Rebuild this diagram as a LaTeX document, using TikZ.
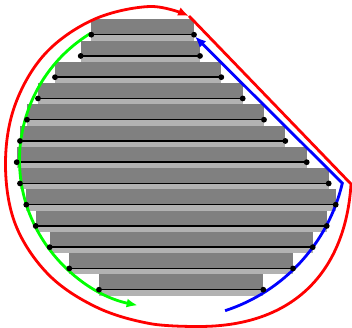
\documentclass[tikz,border=0pt]{standalone}
\usepackage{tikz}
\usetikzlibrary{arrows.meta}

\begin{document}
\begin{tikzpicture}[x=1pt, y=-1pt,
  slab/.style={fill=gray},
  gapband/.style={fill=gray!60},
  tour/.style={line width=2.8pt, -{Latex[length=11pt, width=9pt]}}]
  \useasboundingbox (0,0) rectangle (352,328);
  % Rows: height of the line, left end, right end
  \def\rows{34.7/91.3/194, 55.95/80.7/200, 77.2/55/221.3, 98.45/38/242.7,
    119.7/27/264, 140.95/20/285.3, 162.2/16.7/306.7, 183.45/20/328.7,
    204.7/26.3/335.7, 225.95/35.7/326.7, 247.2/49.7/312.7,
    268.45/69.3/293, 289.7/99/263.3}
  \def\slabh{15.25}
  \def\gaph{6}
  % Layers
  \foreach \y/\l/\r in \rows {
    \fill[gapband] (\l,\y) rectangle (\r,\y+\gaph);
    \fill[slab] (\l,\y-\slabh) rectangle (\r,\y);
    \draw[line width=1.5pt] (\l,\y) -- (\r,\y);
  }
  % Outer loop
  \draw[tour, red] (189,16) -- (351,184) .. controls (346,265) and (300,326)
    .. (200,326.5) -- plot[smooth, tension=0.6] coordinates {(200,326.5)
    (150,323.6) (96.5,307.2) (48.5,274.6) (15.7,225.1) (5.5,166)
    (14.5,106.5) (44.7,54.2) (93.5,19.6) (150,6.5) (189,16)};
  % Left side, going down
  \draw[tour, green] (168,160) ++(238.5:148.5)
    arc[start angle=238.5, end angle=101.8, radius=148.5];
  % Right side, going up
  \draw[tour, blue] (170.6,142.9) ++(72:176.4)
    arc[start angle=72, end angle=13.2, radius=176.4] -- (195,36.5);
  % Dots
  \foreach \y/\l/\r in \rows {
    \fill (\l,\y) circle (2.9pt);
    \fill (\r,\y) circle (2.9pt);
  }
\end{tikzpicture}
\end{document}
